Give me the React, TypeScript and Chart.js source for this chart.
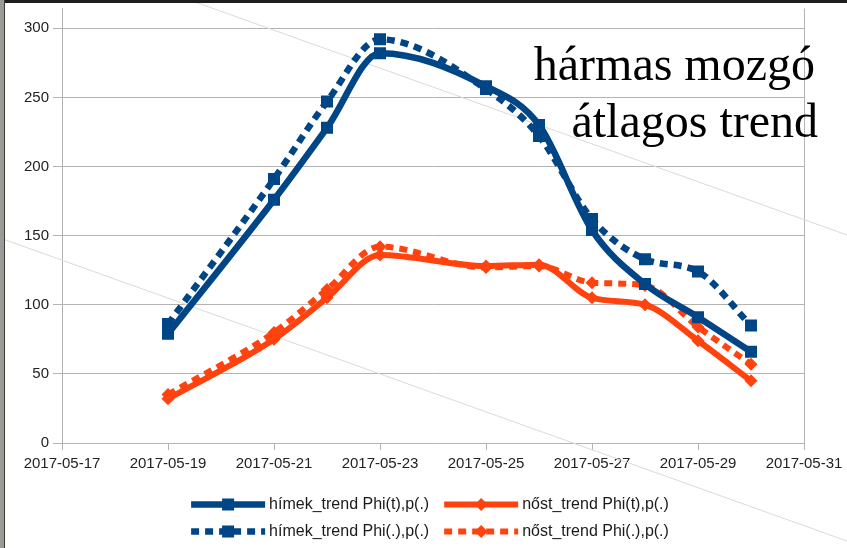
import React, { useEffect, useRef } from 'react';
import { Chart, registerables } from 'chart.js';

Chart.register(...registerables);

// ---- data ----
const START_DATE = '2017-05-17';
const xTickDates = ['2017-05-17', '2017-05-19', '2017-05-21', '2017-05-23', '2017-05-25', '2017-05-27', '2017-05-29', '2017-05-31'];
const dates = ['2017-05-19', '2017-05-21', '2017-05-22', '2017-05-23', '2017-05-25', '2017-05-26', '2017-05-27', '2017-05-28', '2017-05-29', '2017-05-30'];
const himekPhiT = [79, 176, 228, 282, 258, 230, 154, 115, 91, 66];
const nostPhiT = [32, 75, 105, 136, 128, 129, 105, 100, 74, 45];
const himekPhiDot = [86, 191, 247, 292, 256, 222, 162, 133, 124, 85];
const nostPhiDot = [35, 80, 111, 142, 127, 128, 116, 114, 84, 57];
const seriesLabels = ['hímek_trend Phi(t),p(.)', 'nőst_trend Phi(t),p(.)', 'hímek_trend Phi(.),p(.)', 'nőst_trend Phi(.),p(.)'];
const yTicks = [0, 50, 100, 150, 200, 250, 300];
const titleLines = ['hármas mozgó', 'átlagos trend'];

const BLUE = '#004586';
const ORANGE = '#ff420e';
const GRID = '#b3b3b3';
const DAY = 86400000;
const toDay = (s: string) => (Date.parse(s) - Date.parse(START_DATE)) / DAY;
const fmtDay = (v: number) => new Date(Date.parse(START_DATE) + Math.round(v) * DAY).toISOString().slice(0, 10);
const pts = (vals: number[]) => dates.map((d, i) => ({ x: toDay(d), y: vals[i] }));

const drawMarker = (ctx: CanvasRenderingContext2D, style: string, x: number, y: number, r: number, color: string) => {
  ctx.save();
  ctx.setLineDash([]);
  ctx.fillStyle = color;
  ctx.beginPath();
  if (style === 'rect') {
    const s = r * Math.SQRT1_2;
    ctx.rect(x - s, y - s, 2 * s, 2 * s);
  } else {
    ctx.moveTo(x - r, y);
    ctx.lineTo(x, y - r);
    ctx.lineTo(x + r, y);
    ctx.lineTo(x, y + r);
    ctx.closePath();
  }
  ctx.fill();
  ctx.restore();
};

const backdropPlugin = {
  id: 'backdrop',
  beforeDatasetsDraw(chart: any) {
    const ctx = chart.ctx;
    ctx.save();
    ctx.strokeStyle = '#dcdad3';
    ctx.lineWidth = 1;
    ctx.beginPath();
    ctx.moveTo(195, 2);
    ctx.lineTo(847, 235);
    ctx.moveTo(0, 238);
    ctx.lineTo(847, 541);
    ctx.stroke();
    ctx.restore();
  },
  afterDraw(chart: any) {
    const ctx = chart.ctx;
    ctx.save();
    ctx.fillStyle = '#1e1e1e';
    ctx.fillRect(0, 0, chart.width, 3);
    ctx.fillStyle = '#9b9a96';
    ctx.fillRect(0, 0, 4, chart.height);
    ctx.fillStyle = '#3a3a3a';
    ctx.fillRect(4, 0, 1, chart.height);
    ctx.restore();
  },
};

const titlePlugin = {
  id: 'cornerTitle',
  afterDraw(chart: any) {
    const ctx = chart.ctx;
    ctx.save();
    ctx.font = '48px "Liberation Serif", "Times New Roman", serif';
    ctx.fillStyle = '#000';
    ctx.textAlign = 'right';
    ctx.textBaseline = 'alphabetic';
    ctx.fillText(titleLines[0], 815, 80);
    ctx.fillText(titleLines[1], 818, 137);
    ctx.restore();
  },
};

const legendPlugin = {
  id: 'bottomLegend',
  afterDraw(chart: any) {
    const ctx = chart.ctx;
    const ds = chart.data.datasets;
    const area = chart.chartArea;
    ctx.save();
    ctx.font = '16px "Liberation Sans", Arial, sans-serif';
    const sampleW = 74, gapText = 4, colGap = 15;
    const w = (i: number) => ctx.measureText(ds[i].label).width;
    const col0W = Math.max(w(0), w(2));
    const col1W = Math.max(w(1), w(3));
    const total = sampleW + gapText + col0W + colGap + sampleW + gapText + col1W;
    const startX = (area.left + area.right) / 2 - total / 2 - 3;
    const colX = [startX, startX + sampleW + gapText + col0W + colGap];
    const rowY = [area.bottom + 61.5, area.bottom + 88.5];
    ds.forEach((d: any, i: number) => {
      const x = colX[i % 2];
      const y = rowY[Math.floor(i / 2)];
      ctx.save();
      ctx.strokeStyle = d.borderColor;
      ctx.lineWidth = d.borderWidth;
      ctx.lineCap = 'butt';
      ctx.setLineDash(d.borderDash || []);
      ctx.beginPath();
      ctx.moveTo(x, y);
      ctx.lineTo(x + sampleW, y);
      ctx.stroke();
      ctx.restore();
      drawMarker(ctx, d.pointStyle, x + sampleW / 2, y, d.pointRadius, d.borderColor);
      ctx.fillStyle = '#1a1a1a';
      ctx.textAlign = 'left';
      ctx.textBaseline = 'middle';
      ctx.fillText(d.label, x + sampleW + gapText, y);
    });
    ctx.restore();
  },
};

export default function App() {
  const ref = useRef<HTMLCanvasElement | null>(null);
  useEffect(() => {
    if (!ref.current) return;
    const tickFont = { family: '"Liberation Sans", Arial, sans-serif', size: 15 };
    const mk = (label: string, vals: number[], color: string, dashed: boolean, style: string, r: number, bw: number) => ({
      label,
      data: pts(vals),
      borderColor: color,
      backgroundColor: color,
      borderWidth: bw,
      borderDash: dashed ? [8, 6] : [],
      pointStyle: style,
      pointRadius: r,
      pointBackgroundColor: color,
      pointBorderWidth: 0,
      cubicInterpolationMode: 'monotone',
      fill: false,
    });
    const chart = new Chart(ref.current, {
      type: 'line',
      data: {
        datasets: [
          mk(seriesLabels[0], himekPhiT, BLUE, false, 'rect', 8.5, 6.5),
          mk(seriesLabels[1], nostPhiT, ORANGE, false, 'rectRot', 6.5, 6),
          mk(seriesLabels[2], himekPhiDot, BLUE, true, 'rect', 8.5, 6.5),
          mk(seriesLabels[3], nostPhiDot, ORANGE, true, 'rectRot', 6.5, 6),
        ] as any,
      },
      options: {
        responsive: false,
        animation: false,
        layout: { padding: { left: 0, right: 43, top: 3, bottom: 70 } },
        plugins: { legend: { display: false }, tooltip: { enabled: false }, title: { display: false } },
        scales: {
          x: {
            type: 'linear',
            min: toDay(xTickDates[0]),
            max: toDay(xTickDates[xTickDates.length - 1]),
            afterBuildTicks: (s: any) => { s.ticks = xTickDates.map((d) => ({ value: toDay(d) })); },
            ticks: { callback: (v: any) => fmtDay(Number(v)), font: tickFont, color: '#222', padding: 5, maxRotation: 0, autoSkip: false },
            grid: {
              color: (c: any) => (c.index === 0 || c.index === xTickDates.length - 1 ? GRID : 'rgba(0,0,0,0)'),
              tickColor: GRID,
              tickLength: 7,
              lineWidth: 1,
            },
            border: { display: true, color: GRID },
            afterFit: (s: any) => { s.height = 35; s.paddingLeft = 0; s.paddingRight = 0; },
          },
          y: {
            min: 0,
            max: 314.3,
            afterBuildTicks: (s: any) => { s.ticks = yTicks.map((v) => ({ value: v })); },
            ticks: { font: tickFont, color: '#222', padding: 4 },
            grid: { color: GRID, tickColor: GRID, tickLength: 9, lineWidth: 1 },
            border: { display: true, color: GRID },
            afterFit: (s: any) => { s.width = 62; s.paddingTop = 0; s.paddingBottom = 0; },
          },
        },
      } as any,
      plugins: [backdropPlugin, titlePlugin, legendPlugin],
    });
    return () => chart.destroy();
  }, []);
  return (
    <div style={{ position: 'fixed', left: 0, top: 0, width: 847, height: 548, background: '#fff' }}>
      <canvas ref={ref} width={847} height={548} />
    </div>
  );
}
